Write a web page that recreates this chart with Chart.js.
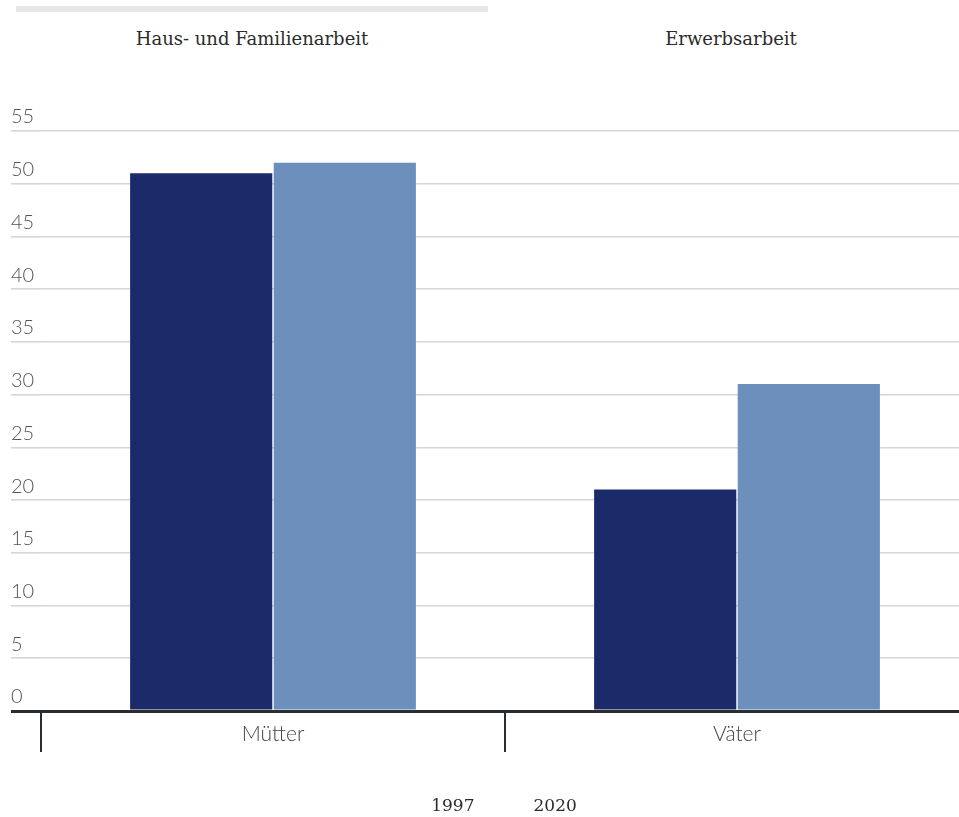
<!DOCTYPE html>
<html lang="de">
<head>
<meta charset="utf-8">
<script src="https://cdn.jsdelivr.net/npm/chart.js@4/dist/chart.umd.min.js"></script>
<style>
  html, body { margin: 0; padding: 0; background: #fff; overflow: hidden; width: 959px; height: 817px; }
  #wrap { position: relative; width: 959px; height: 817px; overflow: hidden; }
  #tabbar { position: absolute; left: 16px; top: 6px; width: 472px; height: 6px; background: #e6e6e6; }
  .tab { position: absolute; top: 28px; font-family: "DejaVu Serif", serif; font-size: 18px; color: #2b2b2b;
         transform: translateX(-50%); white-space: nowrap; }
  #chartBox { position: absolute; left: 0; top: 0; width: 1007px; height: 830px; }
</style>
</head>
<body>
<div id="wrap">
  <div id="tabbar"></div>
  <div class="tab" style="left:252px">Haus- und Familienarbeit</div>
  <div class="tab" style="left:731px">Erwerbsarbeit</div>
  <div id="chartBox"><canvas id="c" width="1007" height="830"></canvas></div>
</div>
<script>
// Share of time (percent) spent per group
const categories = ['Mütter', 'Väter'];
const seriesLabels = ['1997', '2020'];
const values1997 = [51, 21];
const values2020 = [52, 31];
const yTicks = [0, 5, 10, 15, 20, 25, 30, 35, 40, 45, 50, 55];

const DARK = '#2b2e31';
const sansFamily = 'Lato, "Open Sans", sans-serif';

// Wider tracking for the category labels (x axis is drawn after the bars)
const tracking = {
  id: 'tracking',
  beforeDraw(chart) { chart.ctx.letterSpacing = '0px'; },
  afterDatasetsDraw(chart) { chart.ctx.letterSpacing = '1px'; },
  afterDraw(chart) { chart.ctx.letterSpacing = '0px'; }
};

new Chart(document.getElementById('c'), {
  type: 'bar',
  plugins: [tracking],
  data: {
    labels: categories,
    datasets: [
      { label: seriesLabels[0], data: values1997, backgroundColor: '#1b2a68',
        barPercentage: 0.99, categoryPercentage: 0.619 },
      { label: seriesLabels[1], data: values2020, backgroundColor: '#6d8fbb',
        barPercentage: 0.99, categoryPercentage: 0.619 }
    ]
  },
  options: {
    responsive: false,
    animation: false,
    layout: { padding: { left: 11, right: 38, top: 131, bottom: 5 } },
    plugins: {
      tooltip: { enabled: false },
      legend: {
        position: 'bottom',
        labels: {
          font: { family: '"DejaVu Serif", serif', size: 17 },
          color: '#2b2b2b',
          boxWidth: 19.5,
          padding: 31,
          generateLabels: (chart) =>
            Chart.defaults.plugins.legend.labels.generateLabels(chart).map(l => ({
              ...l, fillStyle: 'rgba(0,0,0,0)', strokeStyle: 'rgba(0,0,0,0)', lineWidth: 0
            }))
        }
      }
    },
    scales: {
      x: {
        z: 1,
        afterFit: (s) => { s.height = 56; },
        border: { display: true, color: DARK, width: 3 },
        grid: { offset: true, drawOnChartArea: false, drawTicks: true, tickLength: 41, color: DARK, lineWidth: 2 },
        ticks: { font: { family: sansFamily, size: 21, weight: 300 }, color: '#444', padding: -30 }
      },
      y: {
        min: 0, max: 55,
        afterBuildTicks: (s) => { s.ticks = yTicks.map(v => ({ value: v })); },
        afterFit: (s) => { s.width = 30; },
        border: { display: false },
        grid: {
          tickLength: 30,
          color: (ctx) => ctx.tick && ctx.tick.value === 0 ? DARK : '#d6d6d6',
          lineWidth: (ctx) => ctx.tick && ctx.tick.value === 0 ? 3 : 1.6
        },
        ticks: { font: { family: sansFamily, size: 20, weight: 300 }, color: '#555',
                 crossAlign: 'far', labelOffset: -14, padding: 0 }
      }
    }
  }
});
</script>
</body>
</html>
